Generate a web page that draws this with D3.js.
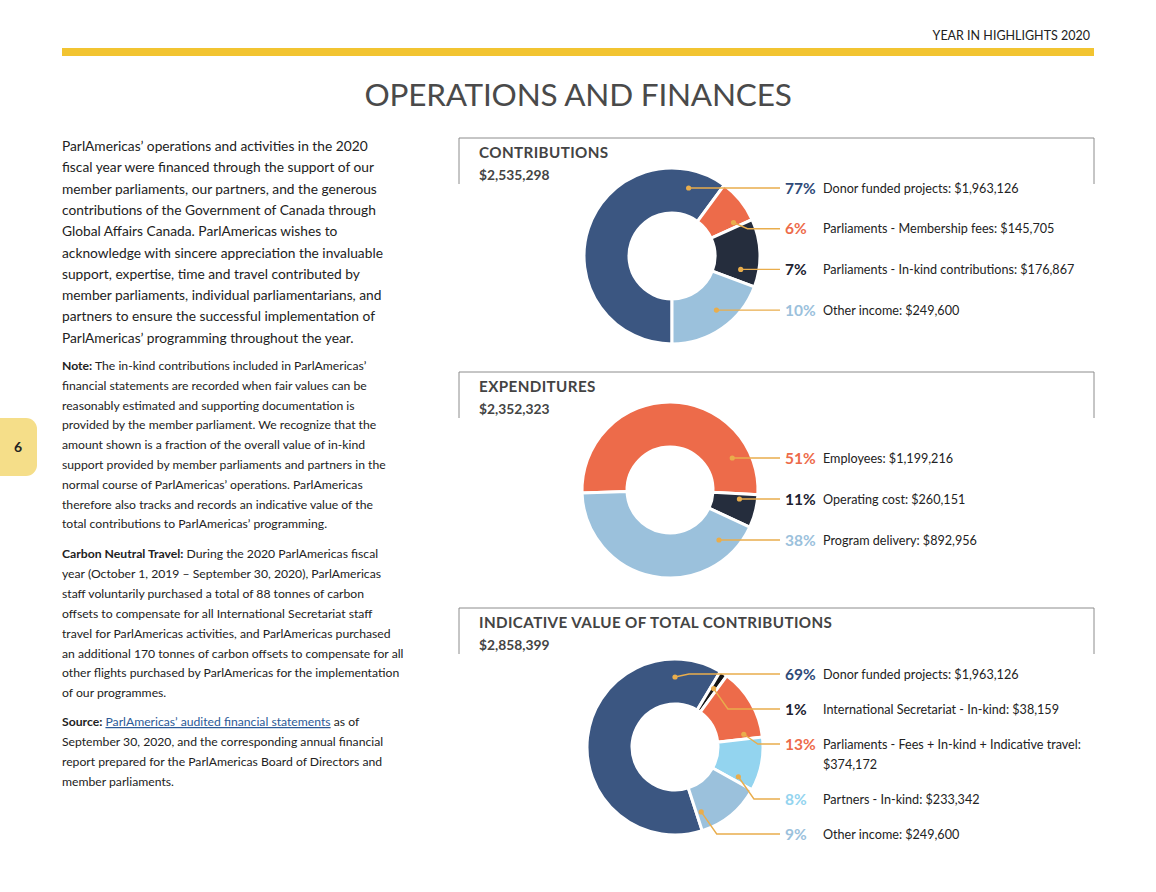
<!DOCTYPE html>
<html>
<head>
<meta charset="utf-8">
<script src="https://cdn.jsdelivr.net/npm/d3@7"></script>
<style>
  body { margin: 0; background: #fff; }
  text { font-family: Lato, "Open Sans", sans-serif; }
</style>
</head>
<body>
<div id="page"></div>
<script>
// amounts from the report; ring shares are the slice sizes as drawn (the report's rings are not to scale)
const contribNames = ["Donor funded projects", "Parliaments - Membership fees", "Parliaments - In-kind contributions", "Other income"];
const contribAmounts = [1963126, 145705, 176867, 249600];
const contribRing = [60.1, 8.1, 12.5, 19.3];

const expendNames = ["Employees", "Operating cost", "Program delivery"];
const expendAmounts = [1199216, 260151, 892956];
const expendRing = [51.4, 6.1, 42.5];

const indicNames = ["Donor funded projects", "International Secretariat - In-kind", "Parliaments - Fees + In-kind + Indicative travel", "Partners - In-kind", "Other income"];
const indicAmounts = [1963126, 38159, 374172, 233342, 249600];
const indicRing = [63.6, 1.4, 13.2, 9.9, 11.9];

const c = {
  darkBlue: "#3b5681", orange: "#ed6b4a", navy: "#252d3d", light: "#9bc1dc",
  cyan: "#93d4ef", black: "#151515", gold: "#e9ad4c", grey: "#444", text: "#222"
};

const W = 1156, H = 892;
const svg = d3.select("#page").append("svg")
  .attr("width", W).attr("height", H)
  .attr("xmlns", "http://www.w3.org/2000/svg");

// header
svg.append("text").attr("x", 1090).attr("y", 40).attr("text-anchor", "end")
  .attr("font-size", 12.5).attr("fill", c.text).text("YEAR IN HIGHLIGHTS 2020");
svg.append("rect").attr("x", 62).attr("y", 48).attr("width", 1032).attr("height", 8).attr("fill", "#f2c431");
svg.append("text").attr("x", 578).attr("y", 106).attr("text-anchor", "middle")
  .attr("font-size", 31.5).attr("letter-spacing", -0.2).attr("fill", "#4a4a4a").text("OPERATIONS AND FINANCES");

// page tab
svg.append("rect").attr("x", -14).attr("y", 418).attr("width", 51).attr("height", 58).attr("rx", 11).attr("fill", "#f5de89");
svg.append("text").attr("x", 18).attr("y", 452).attr("text-anchor", "middle")
  .attr("font-size", 14).attr("font-weight", 700).attr("fill", c.text).text("6");

// left column text
const para1 = [
  "ParlAmericas’ operations and activities in the 2020",
  "fiscal year were financed through the support of our",
  "member parliaments, our partners, and the generous",
  "contributions of the Government of Canada through",
  "Global Affairs Canada. ParlAmericas wishes to",
  "acknowledge with sincere appreciation the invaluable",
  "support, expertise, time and travel contributed by",
  "member parliaments, individual parliamentarians, and",
  "partners to ensure the successful implementation of",
  "ParlAmericas’ programming throughout the year."
];
const para2 = [
  [["Note:", 1], [" The in-kind contributions included in ParlAmericas’"]],
  [["financial statements are recorded when fair values can be"]],
  [["reasonably estimated and supporting documentation is"]],
  [["provided by the member parliament. We recognize that the"]],
  [["amount shown is a fraction of the overall value of in-kind"]],
  [["support provided by member parliaments and partners in the"]],
  [["normal course of ParlAmericas’ operations. ParlAmericas"]],
  [["therefore also tracks and records an indicative value of the"]],
  [["total contributions to ParlAmericas’ programming."]]
];
const para3 = [
  [["Carbon Neutral Travel:", 1], [" During the 2020 ParlAmericas fiscal"]],
  [["year (October 1, 2019 – September 30, 2020), ParlAmericas"]],
  [["staff voluntarily purchased a total of 88 tonnes of carbon"]],
  [["offsets to compensate for all International Secretariat staff"]],
  [["travel for ParlAmericas activities, and ParlAmericas purchased"]],
  [["an additional 170 tonnes of carbon offsets to compensate for all"]],
  [["other flights purchased by ParlAmericas for the implementation"]],
  [["of our programmes."]]
];
const para4 = [
  [["Source:", 1], [" "], ["ParlAmericas’ audited financial statements", 2], [" as of"]],
  [["September 30, 2020, and the corresponding annual financial"]],
  [["report prepared for the ParlAmericas Board of Directors and"]],
  [["member parliaments."]]
];

svg.append("g").selectAll("text").data(para1).enter().append("text")
  .attr("x", 62).attr("y", (d, i) => 151 + i * 21.3)
  .attr("font-size", 13.75).attr("fill", c.text).text(d => d);

function smallPara(lines, y0, step) {
  const t = svg.append("g").selectAll("text").data(lines).enter().append("text")
    .attr("x", 62).attr("y", (d, i) => y0 + i * step)
    .attr("font-size", 12.2).attr("fill", c.text);
  t.selectAll("tspan").data(d => d).enter().append("tspan")
    .attr("font-weight", d => d[1] === 1 ? 700 : null)
    .attr("fill", d => d[1] === 2 ? "#2c5a97" : null)
    .attr("text-decoration", d => d[1] === 2 ? "underline" : null)
    .text(d => d[0]);
}
smallPara(para2, 370, 19.8);
smallPara(para3, 558, 19.9);
smallPara(para4, 726, 20);

// donut panels
const fmtMoney = d3.format("$,");
const fmtPct = d3.format(".0%");

function drawPanel(p) {
  const g = svg.append("g");
  const total = d3.sum(p.amounts);
  g.append("path")
    .attr("d", `M459,${p.top + 46}V${p.top}H1094V${p.top + 46}`)
    .attr("fill", "none").attr("stroke", "#8c8c8c").attr("stroke-width", 1);
  g.append("text").attr("x", 479).attr("y", p.top + 20)
    .attr("font-size", 15.2).attr("font-weight", 700).attr("letter-spacing", 0.4)
    .attr("fill", c.grey).text(p.title);
  g.append("text").attr("x", 479).attr("y", p.top + 42)
    .attr("font-size", 13.8).attr("font-weight", 700).attr("fill", c.grey).text(fmtMoney(total));

  const pie = d3.pie().sort(null).value(d => d)
    .startAngle(p.start).endAngle(p.start + 2 * Math.PI);
  const slices = pie(p.ring);
  const rIn = 43, rOut = 88, rMid = 70;
  const arc = d3.arc().innerRadius(rIn).outerRadius(rOut);

  const ring = g.append("g").attr("transform", `translate(${p.cx},${p.cy})`);
  ring.selectAll("path").data(slices).enter().append("path")
    .attr("d", arc)
    .attr("fill", (d, i) => p.colors[i])
    .attr("stroke", "#fff").attr("stroke-width", 3).attr("stroke-linejoin", "miter");

  // label rows
  const rowY = [];
  let y = p.firstY;
  p.names.forEach((n, i) => {
    rowY.push(y);
    y += p.step + (p.wrap === i ? 20 : 0);
  });

  slices.forEach((s, i) => {
    const ly = rowY[i];
    const dy = ly - p.cy;
    let t = Math.acos(Math.max(-1, Math.min(1, -dy / rMid)));
    const pad = Math.min(0.07, (s.endAngle - s.startAngle) / 2);
    const a0 = s.startAngle + pad, a1 = s.endAngle - pad;
    while (t < s.startAngle) t += 2 * Math.PI;
    if (t < a0) t = a0;
    else if (t > a1) t = (t - a1) < (a0 + 2 * Math.PI - t) ? a1 : a0;
    const dx0 = p.cx + rMid * Math.sin(t), dy0 = p.cy - rMid * Math.cos(t);
    const elbow = Math.abs(ly - dy0) < 3 ? dx0 : dx0 + Math.max(14, Math.abs(ly - dy0) * 0.7);
    g.append("path")
      .attr("d", `M${dx0},${dy0}L${elbow},${ly}H780`)
      .attr("fill", "none").attr("stroke", c.gold).attr("stroke-width", 1.4);
    g.append("circle").attr("cx", dx0).attr("cy", dy0).attr("r", 2.6).attr("fill", c.gold);

    g.append("text").attr("x", 785).attr("y", ly).attr("dy", "0.36em")
      .attr("font-size", 15.5).attr("font-weight", 700)
      .attr("fill", p.pctColors[i]).text(fmtPct(p.amounts[i] / total));
    const lab = g.append("text").attr("x", 823).attr("y", ly).attr("dy", "0.36em")
      .attr("font-size", 12.6).attr("fill", c.text);
    if (p.wrap === i) {
      lab.text(p.names[i] + ":");
      g.append("text").attr("x", 823).attr("y", ly + 20).attr("dy", "0.36em")
        .attr("font-size", 12.6).attr("fill", c.text).text(fmtMoney(p.amounts[i]));
    } else {
      lab.text(p.names[i] + ": " + fmtMoney(p.amounts[i]));
    }
  });
}

const deg = Math.PI / 180;
drawPanel({
  title: "CONTRIBUTIONS", top: 138, cx: 672, cy: 256, start: 180 * deg,
  names: contribNames, amounts: contribAmounts, ring: contribRing,
  colors: [c.darkBlue, c.orange, c.navy, c.light],
  pctColors: ["#2f4a78", c.orange, "#1d2230", c.light],
  firstY: 188, step: 40.7
});
drawPanel({
  title: "EXPENDITURES", top: 372, cx: 670, cy: 490, start: 268 * deg,
  names: expendNames, amounts: expendAmounts, ring: expendRing,
  colors: [c.orange, c.navy, c.light],
  pctColors: [c.orange, "#1d2230", c.light],
  firstY: 458, step: 41
});
drawPanel({
  title: "INDICATIVE VALUE OF TOTAL CONTRIBUTIONS", top: 608, cx: 675, cy: 747, start: 162 * deg,
  names: indicNames, amounts: indicAmounts, ring: indicRing,
  colors: [c.darkBlue, c.black, c.orange, c.cyan, c.light],
  pctColors: ["#2f4a78", "#1d2230", c.orange, c.cyan, c.light],
  firstY: 674, step: 35, wrap: 2
});
</script>
</body>
</html>
